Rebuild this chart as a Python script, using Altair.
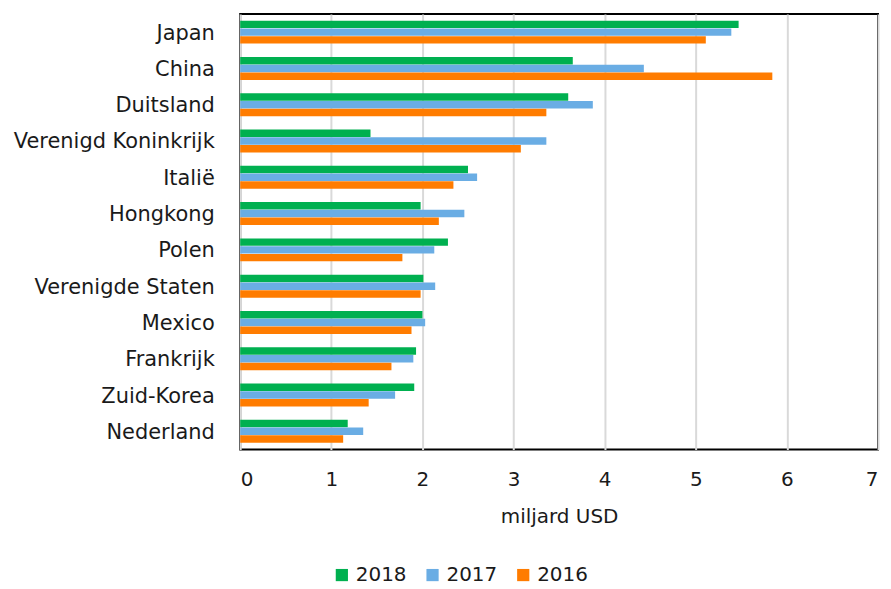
import altair as alt
import pandas as pd

countries = ["Japan", "China", "Duitsland", "Verenigd Koninkrijk", "Italië", "Hongkong",
             "Polen", "Verenigde Staten", "Mexico", "Frankrijk", "Zuid-Korea", "Nederland"]
years = ["2018", "2017", "2016"]
v2018 = [5.47, 3.65, 3.60, 1.43, 2.50, 1.98, 2.28, 2.01, 2.00, 1.93, 1.91, 1.18]
v2017 = [5.39, 4.43, 3.87, 3.36, 2.60, 2.46, 2.13, 2.14, 2.03, 1.90, 1.70, 1.35]
v2016 = [5.11, 5.84, 3.36, 3.08, 2.34, 2.18, 1.78, 1.98, 1.88, 1.66, 1.41, 1.13]
colors = ["#00B050", "#6AADE4", "#FF7C00"]

rows = []
for yr, vals in zip(years, [v2018, v2017, v2016]):
    for c, v in zip(countries, vals):
        rows.append({"land": c, "jaar": yr, "waarde": v})
df = pd.DataFrame(rows)

FONT = "DejaVu Sans"
FS = 21

chart = alt.Chart(df).mark_bar(size=7.5).encode(
    y=alt.Y("land:N", sort=countries, title=None,
            scale=alt.Scale(paddingInner=0.36, paddingOuter=0.18),
            axis=alt.Axis(domain=False, ticks=False, labelPadding=26, labelLimit=400,
                          labelFontSize=FS, labelColor="#1a1a1a", labelFont=FONT, labelOffset=1.5)),
    yOffset=alt.YOffset("jaar:N", sort=years),
    x=alt.X("waarde:Q", title="miljard USD",
            scale=alt.Scale(domain=[0, 7], nice=False),
            axis=alt.Axis(values=[0, 1, 2, 3, 4, 5, 6, 7], format="d", domain=False, ticks=False,
                          labelPadding=20, labelFontSize=20, labelColor="#1a1a1a", labelFont=FONT,
                          titleFontSize=20, titleFont=FONT, titleFontWeight="normal",
                          titleColor="#1a1a1a", titlePadding=17,
                          grid=True, gridColor="#d9d9d9", gridWidth=2)),
    color=alt.Color("jaar:N", sort=years,
                    scale=alt.Scale(domain=years, range=colors),
                    legend=alt.Legend(title=None, orient="none", direction="horizontal",
                                      legendX=92, legendY=553,
                                      symbolType="square", symbolSize=150,
                                      symbolStrokeWidth=0,
                                      labelFontSize=20, labelFont=FONT, labelColor="#1a1a1a",
                                      columnPadding=16, labelOffset=4)),
).properties(width=640, height=437, background="white").configure_view(
    stroke="#000000", strokeWidth=2
)

chart.save("out.html", embed_options={"renderer": "svg", "actions": False})
